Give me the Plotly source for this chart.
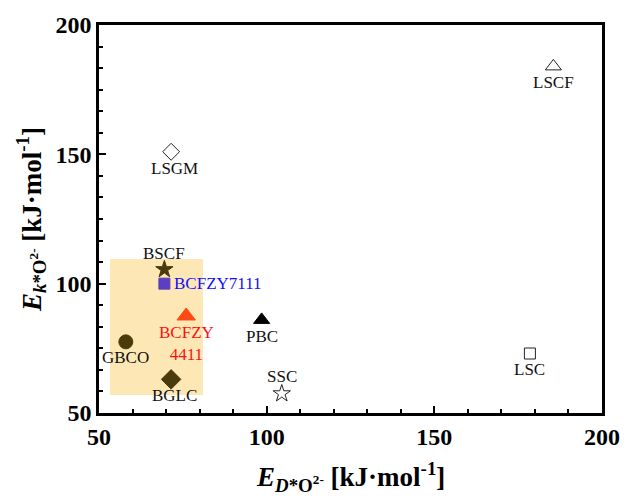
import plotly.graph_objects as go

# Activation energies (kJ/mol) for each cathode material
materials = ["LSCF", "LSGM", "BSCF", "BCFZY7111", "BCFZY<br>4411", "GBCO", "BGLC", "PBC", "SSC", "LSC"]
e_diff = [185.5, 71.5, 69.5, 69.5, 76.0, 58.0, 71.5, 98.5, 104.5, 178.5]
e_surf = [184.0, 151.0, 105.5, 100.0, 87.5, 77.5, 63.0, 86.0, 57.5, 73.0]

symbols = ["triangle-up-open", "diamond-open", "star", "square", "triangle-up", "circle",
           "diamond", "triangle-up", "star-open", "square-open"]
colors = ["#222222", "#222222", "#4a3a0c", "#5b3fc0", "#ff4a14", "#4a3a0c",
          "#4a3a0c", "#000000", "#222222", "#222222"]
sizes = [14, 13, 13, 11, 16, 14, 15, 14, 13, 11]
label_colors = ["#111111", "#111111", "#111111", "#1010ff", "#ff1010", "#111111",
                "#111111", "#111111", "#111111", "#111111"]
# label placement: (xshift, yshift, anchor)
label_pos = [(0, -16, "middle"), (3, -17, "middle"), (0, 16, "middle"), (8, 0, "left"),
             (0, -27, "middle"), (0, -16, "middle"), (3, -16, "middle"), (0, -17, "middle"),
             (0, 17, "middle"), (0, -16, "middle")]

# highlighted region
region_x = [53.3, 81.0]
region_y = [57.0, 109.5]

serif = "Times New Roman, Liberation Serif, serif"

fig = go.Figure()

fig.add_shape(type="rect", x0=region_x[0], x1=region_x[1], y0=region_y[0], y1=region_y[1],
              xref="x", yref="y", fillcolor="#fde7b4", line=dict(width=0), layer="below")

for name, x, y, sym, col, sz in zip(materials, e_diff, e_surf, symbols, colors, sizes):
    fig.add_trace(go.Scatter(
        x=[x], y=[y], mode="markers", name=name, showlegend=False,
        marker=dict(symbol=sym, size=sz, color=col, line=dict(color=col, width=1)),
    ))

for name, x, y, lc, (dx, dy, anc) in zip(materials, e_diff, e_surf, label_colors, label_pos):
    fig.add_annotation(
        x=x, y=y, xref="x", yref="y", text=name, showarrow=False,
        xshift=dx, yshift=dy, xanchor="left" if anc == "left" else "center",
        font=dict(family=serif, size=17, color=lc),
    )

# x-axis title placed below the tick labels
fig.add_annotation(
    x=0.5, y=0, xref="paper", yref="paper", yanchor="middle", yshift=-64, showarrow=False,
    text="<b><i>E</i><sub><i>D</i>*O<sup>2-</sup></sub> [kJ·mol<sup>-1</sup>]</b>",
    font=dict(family=serif, size=27, color="black"),
)

axis_common = dict(
    showline=True, linewidth=2.5, linecolor="black", mirror=True,
    ticks="inside", ticklen=7, tickwidth=2, tickcolor="black",
    showgrid=False, zeroline=False,
    tickfont=dict(family=serif, size=24, color="black", weight="bold"),
)

fig.update_xaxes(
    range=[50, 200], tick0=50, dtick=50,
    minor=dict(ticks="inside", ticklen=4, tickwidth=2, tickcolor="black", tick0=50, dtick=10),
    **axis_common,
)
fig.update_yaxes(
    range=[50, 200], tick0=50, dtick=50,
    minor=dict(ticks="inside", ticklen=4, tickwidth=2, tickcolor="black", tick0=50, dtick=50 / 6),
    title=dict(text="<b><i>E</i><sub><i>k</i>*O<sup>2-</sup></sub> [kJ·mol<sup>-1</sup>]</b>",
               font=dict(family=serif, size=27, color="black"), standoff=7),
    **axis_common,
)

fig.update_layout(
    width=632, height=498,
    margin=dict(l=99, r=28, t=25, b=85),
    plot_bgcolor="white", paper_bgcolor="white",
)

fig.write_html("out.html")
